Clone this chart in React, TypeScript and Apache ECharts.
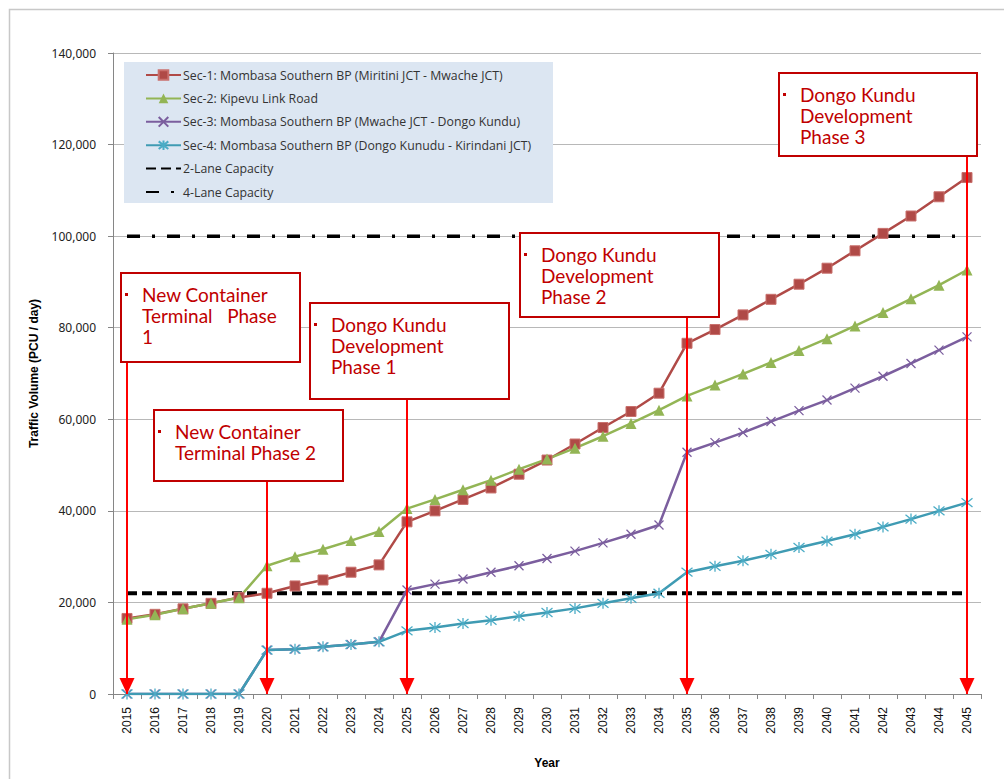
import { useEffect, useRef } from "react";
import * as echarts from "echarts";

// Forecast years on the category axis
const years = [
  "2015", "2016", "2017", "2018", "2019", "2020", "2021", "2022", "2023", "2024",
  "2025", "2026", "2027", "2028", "2029", "2030", "2031", "2032", "2033", "2034",
  "2035", "2036", "2037", "2038", "2039", "2040", "2041", "2042", "2043", "2044", "2045",
];

// Traffic volume (PCU / day) per section
const sec1 = [
  16500, 17400, 18600, 19800, 21100, 22000, 23600, 24900, 26600, 28200,
  37600, 40000, 42500, 45000, 48000, 51100, 54600, 58200, 61700, 65700,
  76600, 79600, 82800, 86200, 89500, 93000, 96800, 100600, 104400, 108600, 112800,
];
const sec2 = [
  16300, 17300, 18600, 19800, 21000, 28000, 30000, 31600, 33500, 35500,
  40500, 42500, 44600, 46700, 49100, 51300, 53700, 56300, 59100, 62000,
  65100, 67500, 69900, 72400, 75000, 77600, 80400, 83300, 86300, 89300, 92600,
];
const sec3 = [
  0, 0, 0, 0, 0, 9600, 9800, 10300, 10800, 11400,
  22700, 24000, 25100, 26600, 28000, 29600, 31200, 33000, 34900, 36900,
  52800, 54900, 57100, 59500, 61900, 64200, 66800, 69400, 72200, 75100, 78000,
];
const sec4 = [
  0, 0, 0, 0, 0, 9600, 9800, 10300, 10800, 11400,
  13800, 14500, 15400, 16100, 17000, 17800, 18700, 19800, 20900, 22000,
  26600, 27900, 29100, 30500, 32000, 33400, 34900, 36500, 38200, 40000, 41800,
];

// Road capacities (PCU / day)
const twoLaneCapacity = 22000;
const fourLaneCapacity = 100000;

// Y axis ticks
const yMin = 0;
const yMax = 140000;
const yStep = 20000;

// Development milestones: year, label lines, and the value where the arrow starts
const milestoneYears = ["2015", "2020", "2025", "2035", "2045"];
const milestoneArrowTops = [72500, 46500, 64400, 82300, 117500];
const milestoneLabels = [
  ["New Container", "Terminal   Phase", "1"],
  ["New Container", "Terminal Phase 2"],
  ["Dongo Kundu", "Development", "Phase 1"],
  ["Dongo Kundu", "Development", "Phase 2"],
  ["Dongo Kundu", "Development", "Phase 3"],
];

const seriesNames = [
  "Sec-1: Mombasa Southern BP (Miritini JCT - Mwache JCT)",
  "Sec-2: Kipevu Link Road",
  "Sec-3: Mombasa Southern BP (Mwache JCT - Dongo Kundu)",
  "Sec-4: Mombasa Southern BP (Dongo Kunudu - Kirindani JCT)",
  "2-Lane Capacity",
  "4-Lane Capacity",
];

const crossPath = "path://M0,0L10,10M10,0L0,10";
const starPath = "path://M1,1L9,9M9,1L1,9M5,0L5,10";

// Annotation box placement (pixels)
const boxLayout = [
  { x: 121, y: 273, w: 179, h: 89 },
  { x: 154, y: 410, w: 189, h: 71 },
  { x: 310, y: 303, w: 199, h: 96 },
  { x: 520, y: 233, w: 199, h: 84 },
  { x: 779, y: 73, w: 198, h: 83 },
];

const annoColor = "#c00000";
const annoFont = "Lato, 'Open Sans', sans-serif";

function buildAnnotations() {
  const els: any[] = [];
  milestoneLabels.forEach((lines, i) => {
    const b = boxLayout[i];
    els.push({
      type: "rect",
      z: 20,
      shape: { x: b.x, y: b.y, width: b.w, height: b.h },
      style: { fill: "#ffffff", stroke: annoColor, lineWidth: 2 },
      silent: true,
    });
    els.push({
      type: "rect",
      z: 21,
      shape: { x: b.x + 4, y: b.y + 20, width: 3, height: 3 },
      style: { fill: annoColor },
      silent: true,
    });
    els.push({
      type: "text",
      z: 21,
      x: b.x + 21,
      y: b.y + 11,
      style: {
        text: lines.join("\n"),
        fill: annoColor,
        font: `19px ${annoFont}`,
        lineHeight: 21,
        verticalAlign: "top",
        align: "left",
      },
      silent: true,
    });
  });
  return els;
}

export default function App() {
  const ref = useRef<HTMLDivElement>(null);

  useEffect(() => {
    const chart = echarts.init(ref.current!, null, { renderer: "svg" });
    const lineWidth = 2.5;
    const arrowLines = milestoneYears.map((yr, i) => [
      { coord: [yr, milestoneArrowTops[i]] },
      { coord: [yr, 0] },
    ]);
    const hiddenSymbol = { color: "rgba(0,0,0,0)" };

    chart.setOption({
      animation: false,
      backgroundColor: "#ffffff",
      textStyle: { fontFamily: "'Liberation Sans', Arial, sans-serif" },
      grid: { left: 113, right: 23, top: 53, bottom: 85 },
      legend: {
        data: seriesNames,
        orient: "vertical",
        left: 124,
        top: 62,
        padding: [7, 23, 6, 21],
        itemWidth: 35,
        itemHeight: 12,
        itemGap: 11.4,
        backgroundColor: "transparent",
        selectedMode: false,
        textStyle: {
          fontSize: 12.3,
          color: "#333333",
          fontFamily: "'Open Sans', sans-serif",
          padding: [0, 0, 0, -3],
        },
      },
      xAxis: {
        type: "category",
        data: years,
        boundaryGap: true,
        name: "Year",
        nameLocation: "middle",
        nameGap: 63,
        nameTextStyle: { fontWeight: "bold", fontSize: 12, color: "#000" },
        axisLine: { lineStyle: { color: "#868686", width: 1 } },
        axisTick: { show: true, length: 5, interval: 0, lineStyle: { color: "#868686" } },
        axisLabel: { interval: 0, rotate: 90, fontSize: 12, color: "#111", margin: 13 },
      },
      yAxis: {
        type: "value",
        min: yMin,
        max: yMax,
        interval: yStep,
        name: "Traffic Volume (PCU / day)",
        nameLocation: "middle",
        nameGap: 73,
        nameTextStyle: { fontWeight: "bold", fontSize: 12, color: "#000" },
        axisLine: { show: true, lineStyle: { color: "#868686" } },
        axisTick: { show: true, length: 5, lineStyle: { color: "#868686" } },
        axisLabel: {
          fontSize: 12,
          color: "#222",
          margin: 17,
          fontFamily: "'Noto Sans', sans-serif",
          formatter: (v: number) => v.toLocaleString("en-US"),
        },
        splitLine: { show: true, lineStyle: { color: "#b8b8b8", width: 1 } },
      },
      graphic: [
        {
          type: "rect",
          z: 0,
          shape: { x: 9.5, y: 9.5, width: 1010, height: 800 },
          style: { fill: "none", stroke: "#c8c8c8", lineWidth: 1.5 },
          silent: true,
        },
        {
          type: "rect",
          z: 1,
          shape: { x: 124, y: 62, width: 429, height: 141 },
          style: { fill: "#dce6f2" },
          silent: true,
        },
        ...buildAnnotations(),
      ],
      series: [
        {
          name: seriesNames[4],
          type: "line",
          z: 2,
          data: [[years[0], twoLaneCapacity], [years[years.length - 1], twoLaneCapacity]],
          symbol: "circle",
          showSymbol: false,
          lineStyle: { color: "#000", width: 4, type: [10, 5] },
          itemStyle: hiddenSymbol,
        },
        {
          name: seriesNames[5],
          type: "line",
          z: 2,
          data: [[years[0], fourLaneCapacity], [years[years.length - 1], fourLaneCapacity]],
          symbol: "circle",
          showSymbol: false,
          lineStyle: { color: "#000", width: 3.5, type: [13, 12, 3, 12] },
          itemStyle: hiddenSymbol,
        },
        {
          name: seriesNames[0],
          type: "line",
          z: 3,
          data: sec1,
          symbol: "rect",
          symbolSize: 10,
          lineStyle: { color: "#b04a47", width: lineWidth },
          itemStyle: { color: "#b04a47", borderColor: "#c9706d", borderWidth: 1 },
        },
        {
          name: seriesNames[1],
          type: "line",
          z: 3,
          data: sec2,
          symbol: "triangle",
          symbolSize: 11,
          lineStyle: { color: "#93b555", width: lineWidth },
          itemStyle: { color: "#93b555" },
        },
        {
          name: seriesNames[2],
          type: "line",
          z: 3,
          data: sec3,
          symbol: crossPath,
          symbolSize: 9,
          lineStyle: { color: "#7b5e9e", width: lineWidth },
          itemStyle: { color: "#7b5e9e", borderColor: "#7b5e9e", borderWidth: 1.3 },
        },
        {
          name: seriesNames[3],
          type: "line",
          z: 3,
          data: sec4,
          symbol: starPath,
          symbolSize: 11,
          lineStyle: { color: "#3f9bb3", width: lineWidth },
          itemStyle: { color: "#3f9bb3", borderColor: "#4bacc6", borderWidth: 1.3 },
        },
        {
          name: "milestones",
          type: "line",
          z: 6,
          data: [],
          markLine: {
            silent: true,
            animation: false,
            symbol: ["none", "triangle"],
            symbolSize: [15, 16],
            symbolOffset: [0, [0, 8]],
            label: { show: false },
            lineStyle: { color: "#ff0000", width: 2, type: "solid" },
            emphasis: { disabled: true },
            data: arrowLines,
          },
        },
      ],
    });
    return () => chart.dispose();
  }, []);

  return (
    <div
      ref={ref}
      style={{ position: "absolute", left: 0, top: 0, width: 1004, height: 779, background: "#fff" }}
    />
  );
}
